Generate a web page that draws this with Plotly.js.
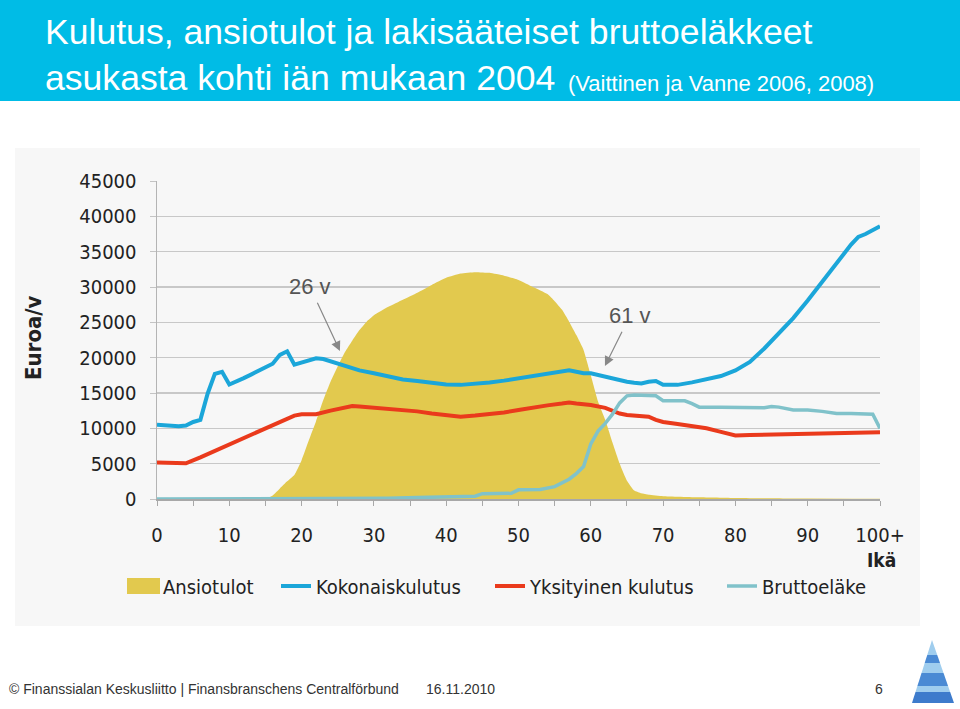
<!DOCTYPE html>
<html>
<head>
<meta charset="utf-8">
<script src="https://cdn.plot.ly/plotly-3.0.1.min.js"></script>
<style>html,body{margin:0;padding:0;background:#fff;}#chart{width:960px;height:709px;}</style>
</head>
<body>
<div id="chart"></div>
<script>
// ---------- DATA ----------
const earningsAge = [15,16,17,18,19,20,21,22,23,24,25,26,27,28,29,30,32,34,36,38,40,42,44,46,48,50,52,54,55,56,57,58,59,60,61,62,63,64,65,66,67,68,70,75,80,90,100];
const earnings    = [0,500,1500,2500,3400,5500,8300,11000,14000,16600,18800,20800,22400,23900,25100,26000,27200,28200,29200,30300,31300,31900,32100,32000,31600,31000,30000,29000,28000,26800,25100,23200,21100,17500,13800,11200,8000,5000,2600,1200,800,600,400,250,150,80,50];

const totalAge = [0,1,2,3,4,5,6,7,8,9,10,11,12,13,14,15,16,17,18,19,20,21,22,23,24,25,26,28,30,32,34,36,38,40,42,44,46,48,50,52,54,56,57,58,59,60,62,64,65,66,67,68,69,70,72,74,76,78,80,82,84,86,88,90,92,94,96,97,98,100];
const totalCons = [10500,10400,10300,10300,10400,10900,11200,14900,17700,18000,16200,16600,17100,17600,18100,18600,19150,20400,20900,19000,19300,19600,19900,19800,19500,19200,18900,18200,17800,17300,16900,16700,16400,16200,16150,16300,16500,16750,17100,17450,17800,18100,18200,18000,17800,17800,17300,16800,16600,16450,16350,16600,16700,16150,16150,16500,17000,17400,18200,19400,21300,23400,25600,28100,30800,33400,36000,37100,37500,38600];

const privAge = [0,2,4,6,8,10,12,14,16,18,19,20,22,24,26,27,28,30,32,34,36,38,40,42,44,46,48,50,52,54,56,57,58,60,62,63,64,65,66,67,68,69,70,72,74,76,78,80,82,85,90,95,100];
const privCons = [5150,5050,5050,5900,6800,7700,8600,9500,10400,11300,11800,12000,12000,12500,13000,13170,13100,12950,12800,12600,12400,12100,11850,11650,11800,12000,12250,12600,12950,13250,13500,13650,13500,13300,12900,12500,12100,11900,11800,11750,11650,11200,10900,10600,10300,10000,9500,9000,9050,9100,9200,9300,9450];

const pensionAge = [0,10,20,30,32,36,40,44,45,49,50,53,55,56,57,58,59,60,61,62,63,64,65,66,67,68,69,70,72,73,74,75,78,80,82,84,85,86,88,90,92,94,96,98,99,100];
const pension    = [0,0,0,0,100,200,300,400,750,800,1300,1350,1750,2300,2800,3600,4600,7800,9600,10700,12000,13600,14600,14700,14700,14700,14600,13900,13900,13900,13500,13000,13000,13000,12950,12900,13100,13000,12600,12600,12400,12100,12100,12000,12000,10000];

const seriesNames = ['Ansiotulot','Kokonaiskulutus','Yksityinen kulutus','Bruttoeläke'];
const xTickVals = [0,5,10,15,20,25,30,35,40,45,50,55,60,65,70,75,80,85,90,95,100];
const xTickText = ['0','','10','','20','','30','','40','','50','','60','','70','','80','','90','','100+'];
const yTickVals = [0,5000,10000,15000,20000,25000,30000,35000,40000,45000];

// ---------- GEOMETRY HELPERS ----------
const L=157, R=880, T=181, B=499;
const px = x => (x-L)/(R-L);
const py = y => (B-y)/(B-T);

const FONT = '"DejaVu Sans Condensed", "DejaVu Sans", sans-serif';
const ARIAL = '"Liberation Sans", Arial, sans-serif';

const cYellow='#e2c94e', cBlue='#1ba6d9', cRed='#ea3a1c', cTeal='#80c2ca';

const traces = [
  {x: earningsAge, y: earnings, name: seriesNames[0], type:'scatter', mode:'lines',
   fill:'tozeroy', fillcolor:cYellow, line:{width:0, color:cYellow, shape:'spline', smoothing:0.4}, legend:'legend'},
  {x: totalAge, y: totalCons, name: seriesNames[1], type:'scatter', mode:'lines',
   line:{color:cBlue, width:4}, legend:'legend2'},
  {x: privAge, y: privCons, name: seriesNames[2], type:'scatter', mode:'lines',
   line:{color:cRed, width:4}, legend:'legend3'},
  {x: pensionAge, y: pension, name: seriesNames[3], type:'scatter', mode:'lines',
   line:{color:cTeal, width:3.5}, legend:'legend4'}
];

function leg(textStart){
  return {x: px(textStart-40), y: py(586), xanchor:'left', yanchor:'middle',
    orientation:'h', bgcolor:'rgba(0,0,0,0)', font:{family:FONT, size:20, color:'#222'}};
}

// logo bands (pyramid)
const logoShapes = [];
const apex=[932,640], bl=[912,703], br=[954,703];
const bands=[[640,655,'#9fcdee'],[655,663,'#4a8ad4'],[663,673,'#9fcdee'],[673,686,'#4a8ad4'],[686,692,'#9fcdee'],[692,703,'#3d7bcc']];
function edgeX(yv, side){
  const t=(yv-apex[1])/(bl[1]-apex[1]);
  return side<0 ? apex[0]+(bl[0]-apex[0])*t : apex[0]+(br[0]-apex[0])*t;
}
bands.forEach(b=>{
  const y0=b[0], y1=b[1];
  const p = `M${px(edgeX(y0,-1))},${py(y0)} L${px(edgeX(y0,1))},${py(y0)} L${px(edgeX(y1,1))},${py(y1)} L${px(edgeX(y1,-1))},${py(y1)} Z`;
  logoShapes.push({type:'path', xref:'paper', yref:'paper', path:p, fillcolor:b[2], line:{width:0}, layer:'above'});
});

const layout = {
  width:960, height:709,
  margin:{l:L, r:960-R, t:T, b:709-B, pad:0},
  paper_bgcolor:'#ffffff', plot_bgcolor:'rgba(0,0,0,0)',
  showlegend:true,
  legend: leg(163), legend2: leg(316), legend3: leg(530), legend4: leg(762),
  xaxis:{range:[0,100], tickvals:xTickVals, ticktext:xTickText, ticks:'outside', ticklen:5, tickcolor:'#a8a8a8',
    showgrid:false, showline:true, linecolor:'#a8a8a8', linewidth:1.5, zeroline:false,
    tickfont:{family:FONT, size:20, color:'#222'}, ticklabelstandoff:12, fixedrange:true},
  yaxis:{range:[0,45000], tickvals:yTickVals, ticks:'outside', ticklen:6, tickcolor:'#c4c4c4',
    showgrid:true, gridcolor:'#c8c8c8', gridwidth:1.5, showline:true, linecolor:'#b4b4b4', linewidth:1.5, zeroline:false,
    tickfont:{family:FONT, size:20, color:'#222'}, ticklabelstandoff:9, tickformat:'d', fixedrange:true},
  shapes:[
    {type:'rect', xref:'paper', yref:'paper', x0:px(15), x1:px(920), y0:py(626), y1:py(148), fillcolor:'#f7f7f7', line:{width:0}, layer:'below'},
    {type:'rect', xref:'paper', yref:'paper', x0:px(0), x1:px(960), y0:py(101), y1:py(0), fillcolor:'#00bce6', line:{width:0}, layer:'below'},
    {type:'rect', xref:'paper', yref:'paper', x0:px(127), x1:px(160), y0:py(594), y1:py(578), fillcolor:cYellow, line:{width:0}, layer:'above'},
    ...logoShapes
  ],
  annotations:[
    {xref:'paper', yref:'paper', x:px(43), y:py(31.7), xanchor:'left', yanchor:'middle', showarrow:false,
     text:'Kulutus, ansiotulot ja lakisääteiset bruttoeläkkeet', font:{family:ARIAL, size:35.6, color:'#ffffff'}},
    {xref:'paper', yref:'paper', x:px(43), y:py(78.4), xanchor:'left', yanchor:'middle', showarrow:false,
     text:'asukasta kohti iän mukaan 2004', font:{family:ARIAL, size:35.6, color:'#ffffff'}},
    {xref:'paper', yref:'paper', x:px(566), y:py(83.1), xanchor:'left', yanchor:'middle', showarrow:false,
     text:'(Vaittinen ja Vanne 2006, 2008)', font:{family:ARIAL, size:22, color:'#ffffff'}},
    {xref:'paper', yref:'paper', x:px(33), y:py(338), xanchor:'center', yanchor:'middle', showarrow:false, textangle:-90,
     text:'<b>Euroa/v</b>', font:{family:FONT, size:22, color:'#222'}},
    {xref:'paper', yref:'paper', x:px(898), y:py(560), xanchor:'right', yanchor:'middle', showarrow:false,
     text:'<b>Ikä</b>', font:{family:FONT, size:19, color:'#222'}},
    {xref:'x', yref:'y', axref:'x', ayref:'y', x:25.3, y:20950, ax:21.16, ay:30020, text:'26 v', showarrow:true,
     arrowhead:2, arrowsize:1.6, arrowwidth:1.2, arrowcolor:'#888', standoff:0, startstandoff:2,
     font:{family:ARIAL, size:22, color:'#555'}},
    {xref:'x', yref:'y', axref:'x', ayref:'y', x:61.96, y:18830, ax:65.4, ay:25910, text:'61 v', showarrow:true,
     arrowhead:2, arrowsize:1.6, arrowwidth:1.2, arrowcolor:'#888', standoff:0, startstandoff:2,
     font:{family:ARIAL, size:22, color:'#555'}},
    {xref:'paper', yref:'paper', x:px(7), y:py(689), xanchor:'left', yanchor:'middle', showarrow:false,
     text:'© Finanssialan Keskusliitto | Finansbranschens Centralförbund', font:{family:ARIAL, size:14, color:'#333'}},
    {xref:'paper', yref:'paper', x:px(424), y:py(689), xanchor:'left', yanchor:'middle', showarrow:false,
     text:'16.11.2010', font:{family:ARIAL, size:14, color:'#333'}},
    {xref:'paper', yref:'paper', x:px(879), y:py(689), xanchor:'center', yanchor:'middle', showarrow:false,
     text:'6', font:{family:ARIAL, size:14, color:'#333'}}
  ]
};

Plotly.newPlot('chart', traces, layout, {staticPlot:true, displayModeBar:false});
</script>
</body>
</html>
